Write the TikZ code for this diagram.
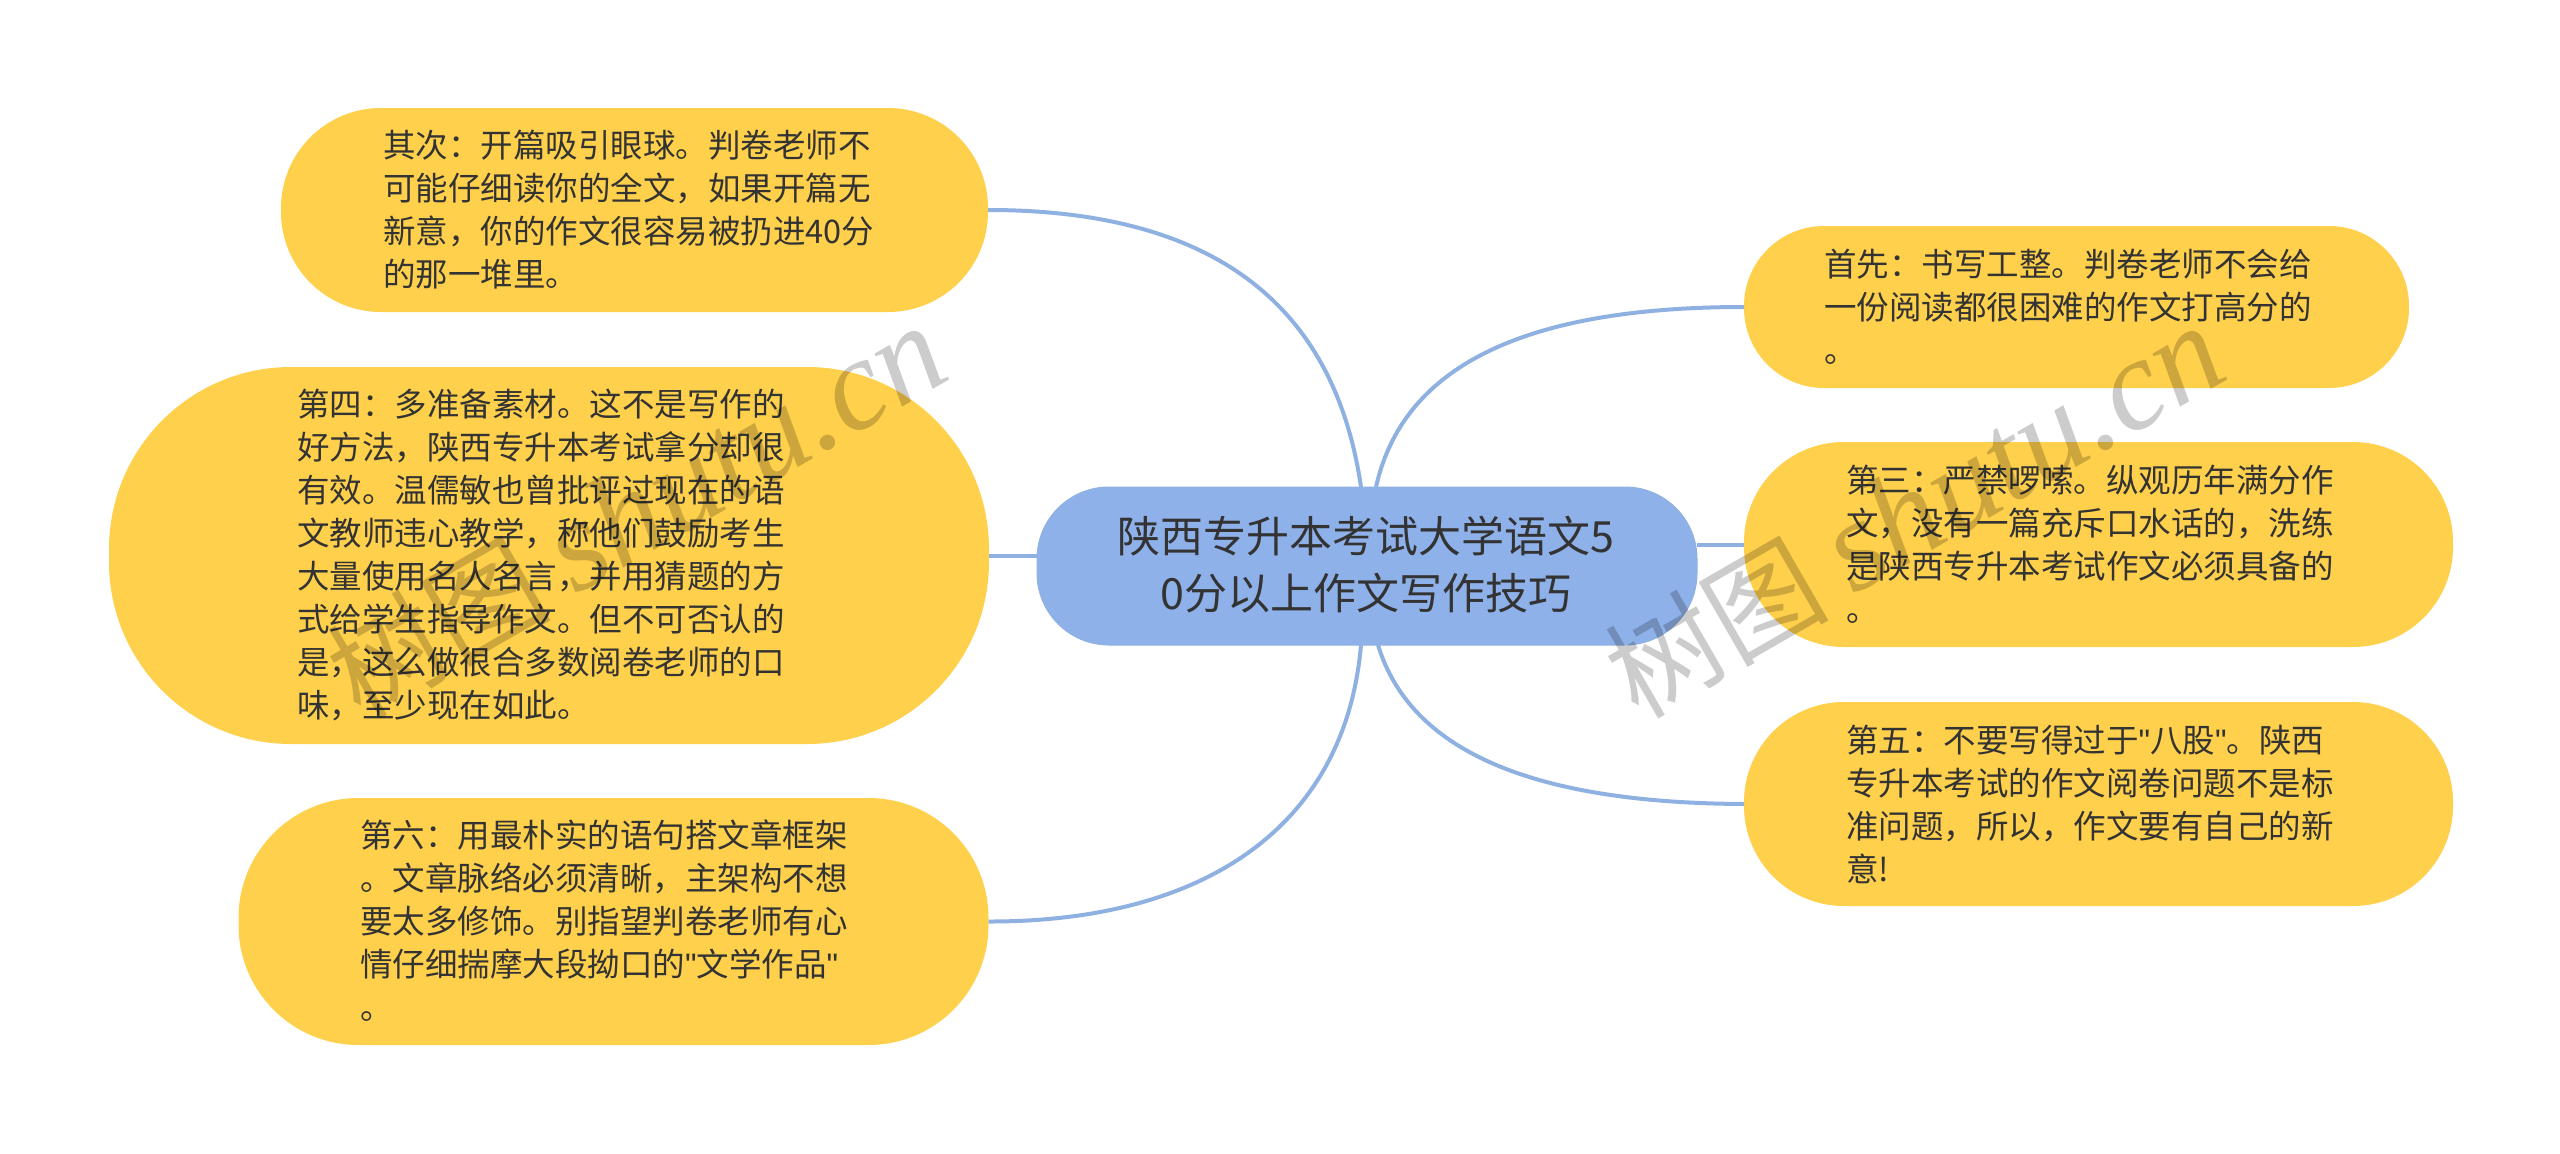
\documentclass[tikz,border=0pt]{standalone}
\usepackage{fontspec}
\setmainfont{Noto Sans CJK SC}
\newfontfamily\wmlatin{Liberation Serif}
\newfontfamily\qfont{Liberation Sans}
\newcommand{\sq}{{\qfont"}}
\definecolor{pillyellow}{HTML}{FFD04B}
\definecolor{rootblue}{HTML}{8FB1E9}
\definecolor{linkblue}{HTML}{8FB1E2}
\definecolor{inkdark}{HTML}{333333}
\tikzset{
  x=1pt,y=-1pt,
  pill/.style={rectangle,rounded corners=#1,fill=pillyellow,inner sep=0pt,outer sep=0pt},
  rootpill/.style={rectangle,rounded corners=#1,fill=rootblue,draw=linkblue,line width=1pt,inner sep=0pt,outer sep=0pt},
  leaftext/.style={anchor=west,align=left,inner sep=0pt,outer sep=0pt,text=inkdark,font=\fontsize{32.5}{43}\selectfont},
  roottext/.style={align=center,inner sep=0pt,outer sep=0pt,text=inkdark,font=\fontsize{43}{57}\selectfont},
  link/.style={draw=linkblue,line width=4pt},
  watermark/.style={rotate=30,text=black,text opacity=0.2,inner sep=0pt,font=\fontsize{112}{112}\selectfont}
}
\begin{document}
\begin{tikzpicture}
\useasboundingbox (0,0) rectangle (2560,1154);
% nodes (positioned by centre, from their extents)
\node[rootpill=72,minimum width=660pt,minimum height=158pt] (root) at (1367,566) {};
\node[pill=100,minimum width=707pt,minimum height=204pt] (n1) at (634.5,210) {};
\node[pill=182,minimum width=880pt,minimum height=377pt] (n4) at (549,555.5) {};
\node[pill=120,minimum width=750pt,minimum height=247pt] (n6) at (613.5,921.5) {};
\node[pill=80,minimum width=665pt,minimum height=162pt] (n2) at (2076.5,307) {};
\node[pill=100,minimum width=709pt,minimum height=205pt] (n3) at (2098.5,544.5) {};
\node[pill=100,minimum width=709pt,minimum height=204pt] (n5) at (2098.5,804) {};
% connectors
\draw[link] ([xshift=-6pt]root.north) .. controls (1335,310) and (1220,210) .. (n1.east);
\draw[link] ([xshift=9pt]root.north) .. controls (1400,380) and (1500,307) .. (n2.west);
\draw[link] ([xshift=-6pt]root.south) .. controls (1345,830) and (1200,922) .. (n6.east);
\draw[link] ([xshift=11pt]root.south) .. controls (1410,750) and (1530,803) .. (n5.west);
\draw[link] (root.west |- n4.east) -- (n4.east);
\draw[link] (root.east |- n3.west) -- (n3.west);
% text
\node[roottext] (roott) at (1366,565) {陕西专升本考试大学语文5\\0分以上作文写作技巧};
\node[leaftext] (t1) at (383,210) {其次：开篇吸引眼球。判卷老师不\\可能仔细读你的全文，如果开篇无\\新意，你的作文很容易被扔进40分\\的那一堆里。};
\node[leaftext] (t4) at (297,555) {第四：多准备素材。这不是写作的\\好方法，陕西专升本考试拿分却很\\有效。温儒敏也曾批评过现在的语\\文教师违心教学，称他们鼓励考生\\大量使用名人名言，并用猜题的方\\式给学生指导作文。但不可否认的\\是，这么做很合多数阅卷老师的口\\味，至少现在如此。};
\node[leaftext] (t6) at (360,921) {第六：用最朴实的语句搭文章框架\\。文章脉络必须清晰，主架构不想\\要太多修饰。别指望判卷老师有心\\情仔细揣摩大段拗口的\sq 文学作品\sq\\。};
\node[leaftext] (t2) at (1824,307) {首先：书写工整。判卷老师不会给\\一份阅读都很困难的作文打高分的\\。};
\node[leaftext] (t3) at (1846,544) {第三：严禁啰嗦。纵观历年满分作\\文，没有一篇充斥口水话的，洗练\\是陕西专升本考试作文必须具备的\\。};
\node[leaftext] (t5) at (1846,804) {第五：不要写得过于\sq 八股\sq 。陕西\\专升本考试的作文阅卷问题不是标\\准问题，所以，作文要有自己的新\\意!};
% watermarks
\node[watermark] (wm1) at (636,512) {树图 {\wmlatin\itshape\fontsize{130}{130}\selectfont shutu.cn}};
\node[watermark] (wm2) at (1914,512) {树图 {\wmlatin\itshape\fontsize{130}{130}\selectfont shutu.cn}};
\end{tikzpicture}
\end{document}
